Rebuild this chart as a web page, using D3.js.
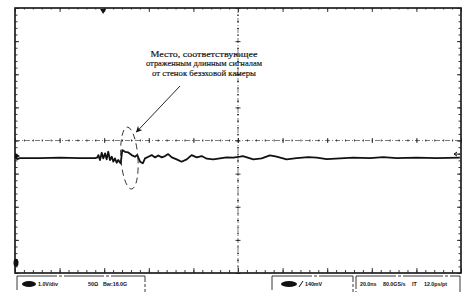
<!DOCTYPE html>
<html>
<head>
<meta charset="utf-8">
<script src="https://cdn.jsdelivr.net/npm/d3@7"></script>
<style>
  body{margin:0;background:#fff;}
  svg{display:block;}
</style>
</head>
<body>
<svg id="scope" width="470" height="292"></svg>
<script>
// осциллограмма: время, нс / напряжение, В
const timeNs = [0,0.9,2.2,11.2,20.2,29.1,35.9,36.8,37.4,38.1,38.9,39.6,40.4,41.1,41.8,42.6,43.4,44.1,44.8,45.6,46.3,47.4,48.1,49.3,50.8,52.3,53.8,54.8,56.1,57.3,58.3,59.8,61.3,62.8,64.3,65.8,67.3,68.7,70.3,72.5,74.7,77.0,79.2,81.5,83.7,86.0,88.9,91.9,94.9,97.9,100.9,102.2,106.9,110.6,114.3,117.3,121.8,126.3,131.5,135.3,139.8,145.7,151.7,159.2,165.1,171.2,180.1,189.1,199.5];
const volts = [-0.47,-0.56,-0.53,-0.53,-0.52,-0.53,-0.53,-0.52,-0.44,-0.59,-0.37,-0.54,-0.39,-0.57,-0.34,-0.59,-0.49,-0.64,-0.54,-0.67,-0.59,-0.69,-0.29,-0.34,-0.36,-0.44,-0.49,-0.44,-0.64,-0.69,-0.54,-0.49,-0.44,-0.51,-0.45,-0.51,-0.47,-0.41,-0.51,-0.57,-0.64,-0.57,-0.44,-0.51,-0.47,-0.55,-0.57,-0.54,-0.51,-0.52,-0.49,-0.47,-0.57,-0.54,-0.45,-0.49,-0.57,-0.53,-0.50,-0.52,-0.56,-0.54,-0.52,-0.53,-0.50,-0.53,-0.52,-0.53,-0.52];

// шкалы: 20 нс/дел x 10, 1 В/дел x 8
const xDivs = d3.range(0, 201, 20);
const yDivs = d3.range(-4, 4.01, 1);
const note = ["Место, соответствующее", "отраженным длинным сигналам", "от стенок безэховой камеры"];
const noteWidth = [107, 116, 104];
const markT = 51.3, markV = -0.53;   // область отражений (эллипс)
const trigT = 39.5;                  // момент запуска (метка сверху)
const levelV = -0.41;                // метка уровня справа
const groundV = -3.69;               // метка канала внизу слева
const status1 = ["1.0V/div", "50Ω", "Bw:16.0G"];
const status2 = ["140mV"];
const status3 = ["20.0ns", "80.0GS/s", "IT", "12.0ps/pt"];

const MARGIN = {LEFT:15, RIGHT:9, TOP:8, BOTTOM:19};
const svg = d3.select("#scope");
const W = +svg.attr("width"), H = +svg.attr("height");

const x = d3.scaleLinear().domain([0,200]).range([MARGIN.LEFT, W-MARGIN.RIGHT]);
const y = d3.scaleLinear().domain([-4,4]).range([H-MARGIN.BOTTOM, MARGIN.TOP]);

const xMinor = d3.range(0, 200.01, 4);
const yMinor = d3.range(-4, 4.01, 0.2);

// рамка
svg.append("rect")
  .attr("x", x(0)).attr("y", y(4))
  .attr("width", x(200)-x(0)).attr("height", y(-4)-y(4))
  .attr("fill","none").attr("stroke","#111").attr("stroke-width",1.6);

function ticks(axis, tr, vals, size){
  const g = svg.append("g").attr("transform", tr)
    .call(axis.tickValues(vals).tickSize(size).tickFormat(""));
  g.select(".domain").remove();
  g.selectAll("line").attr("stroke","#222").attr("stroke-width",0.9);
  return g;
}
// деления по краям
ticks(d3.axisBottom(x), `translate(0,${y(4)})`, xDivs, 4);
ticks(d3.axisBottom(x), `translate(0,${y(4)})`, xMinor, 1.5);
ticks(d3.axisTop(x), `translate(0,${y(-4)})`, xDivs, 5);
ticks(d3.axisTop(x), `translate(0,${y(-4)})`, xMinor, 3);
ticks(d3.axisRight(y), `translate(${x(0)},0)`, yDivs, 4);
ticks(d3.axisRight(y), `translate(${x(0)},0)`, yMinor, 2.5);
ticks(d3.axisLeft(y), `translate(${x(200)},0)`, yDivs, 4);
ticks(d3.axisLeft(y), `translate(${x(200)},0)`, yMinor, 2.5);

// центральный крест
svg.append("line")
  .attr("x1", x(0)).attr("x2", x(200)).attr("y1", y(0)).attr("y2", y(0))
  .attr("stroke","#444").attr("stroke-width",0.7).attr("stroke-dasharray","5,2,1,2");
svg.append("line")
  .attr("x1", x(100)).attr("x2", x(100)).attr("y1", y(4)).attr("y2", y(-4))
  .attr("stroke","#444").attr("stroke-width",0.7).attr("stroke-dasharray","5,2,1,2");
ticks(d3.axisBottom(x), `translate(0,${y(0)-2.5})`, xDivs, 5);
ticks(d3.axisBottom(x), `translate(0,${y(0)-1})`, xMinor, 2);
ticks(d3.axisRight(y), `translate(${x(100)-2.5},0)`, yDivs, 5);
ticks(d3.axisRight(y), `translate(${x(100)-1},0)`, yMinor, 2);

// метка запуска сверху
svg.append("path")
  .attr("d", `M${x(trigT)-3},${y(4)+1} L${x(trigT)+3},${y(4)+1} L${x(trigT)},${y(4)+6} Z`)
  .attr("fill","#111");

// сигнал
const line = d3.line()
  .x((d,i)=>x(timeNs[i]))
  .y((d,i)=>y(volts[i]))
  .curve(d3.curveLinear);
svg.append("path")
  .datum(volts)
  .attr("d", line)
  .attr("fill","none").attr("stroke","#111").attr("stroke-width",1.8)
  .attr("stroke-linejoin","round");

// маркеры канала слева
svg.append("path")
  .attr("d", `M${x(0)},${y(volts[0])-3} L${x(0)+5},${y(volts[0])} L${x(0)},${y(volts[0])+3} Z`)
  .attr("fill","#111");
svg.append("ellipse")
  .attr("cx", x(0)+1).attr("cy", y(groundV)).attr("rx",2.5).attr("ry",4)
  .attr("fill","#111");

// уровень справа
svg.append("path")
  .attr("d", `M${x(200)-1},${y(levelV)} l-6,0 m0,0 l3,-2 m-3,2 l3,2`)
  .attr("stroke","#111").attr("stroke-width",1).attr("fill","none");

// эллипс и стрелка
svg.append("ellipse")
  .attr("cx", x(markT)).attr("cy", y(markV))
  .attr("rx", 8.5).attr("ry", 31)
  .attr("fill","none").attr("stroke","#222").attr("stroke-width",0.9)
  .attr("stroke-dasharray","6,4")
  .attr("transform", `rotate(-4,${x(markT)},${y(markV)})`);

svg.append("defs").append("marker")
  .attr("id","ah").attr("viewBox","0 0 10 10").attr("refX",9).attr("refY",5)
  .attr("markerWidth",7).attr("markerHeight",7).attr("orient","auto")
  .append("path").attr("d","M0,0 L10,5 L0,10 L3,5 Z").attr("fill","#111");
svg.append("line")
  .attr("x1", 180).attr("y1", 86).attr("x2", x(markT)+7).attr("y2", y(markV)-26)
  .attr("stroke","#111").attr("stroke-width",0.9).attr("marker-end","url(#ah)");

svg.append("g").selectAll("text").data(note).join("text")
  .attr("x", 204).attr("y", (d,i)=>57+i*9.4)
  .attr("text-anchor","middle")
  .attr("font-family","'Liberation Serif','DejaVu Serif',serif")
  .attr("font-size", 8.1).attr("fill","#111")
  .attr("stroke","#111").attr("stroke-width",0.15)
  .attr("textLength", (d,i)=>noteWidth[i]).attr("lengthAdjust","spacingAndGlyphs")
  .text(d=>d);

// нижняя строка состояния
const bar = svg.append("g")
  .attr("font-family","'Liberation Sans',Arial,sans-serif")
  .attr("font-weight","bold").attr("font-size",5.3).attr("fill","#111");
const boxY = H-MARGIN.BOTTOM+3;
[[17,145],[272,353],[356,460]].forEach(b=>{
  bar.append("rect").attr("x",b[0]).attr("y",boxY).attr("width",b[1]-b[0]).attr("height",20)
    .attr("fill","none").attr("stroke","#222").attr("stroke-width",0.9)
    .attr("stroke-dasharray","40,2,3,2");
});
bar.append("ellipse").attr("cx",29).attr("cy",boxY+8).attr("rx",7).attr("ry",3).attr("fill","#111");
bar.append("text").attr("x",38).attr("y",boxY+10).text(status1[0]);
bar.append("text").attr("x",88).attr("y",boxY+10).text(status1[1]);
bar.append("text").attr("x",103).attr("y",boxY+10).text(status1[2]);
bar.append("ellipse").attr("cx",289).attr("cy",boxY+8).attr("rx",8).attr("ry",3).attr("fill","#111");
bar.append("path").attr("d",`M299,${boxY+11} L303,${boxY+5}`).attr("stroke","#111").attr("stroke-width",1);
bar.append("text").attr("x",305).attr("y",boxY+10).text(status2[0]);
const s3x = [360,383,412,424];
status3.forEach((t,i)=>bar.append("text").attr("x",s3x[i]).attr("y",boxY+10).text(t));
</script>
</body>
</html>
